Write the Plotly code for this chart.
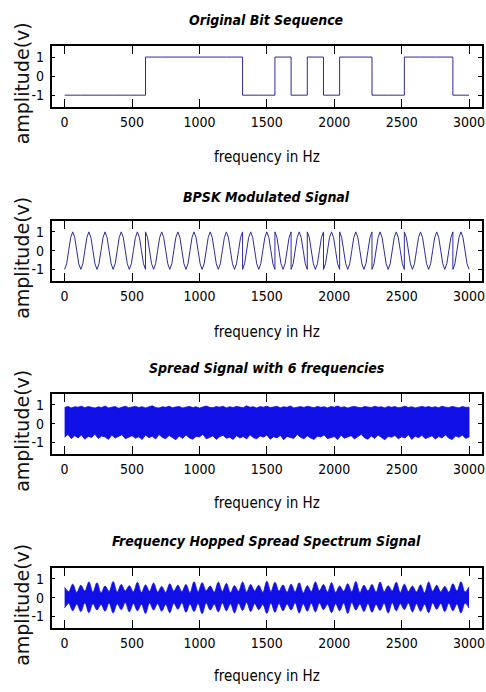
import plotly.graph_objects as go

# ---------------- data ----------------
bits = [0, 0, 0, 0, 0, 1, 1, 1, 1, 1, 1, 0, 0, 1, 0, 1, 0, 1, 1, 0, 0, 1, 1, 1, 0]
bit_width = 120                      # samples per bit (x units)
carrier_cycle = [-1, -0.7, 0, 0.7, 1, 0.7, 0, -0.7, -1]   # one carrier cycle, bit "0" form
x_ticks = [0, 500, 1000, 1500, 2000, 2500, 3000]
y_ticks = [-1, 0, 1]
y_ticktext = ["-1", "0", "1"]

spread_step = 25
spread_upper = [
    0.86, 0.92, 0.84, 0.90, 0.88, 0.93, 0.85, 0.91, 0.87, 0.83,
    0.90, 0.86, 0.94, 0.84, 0.88, 0.91, 0.82, 0.89, 0.93, 0.85,
    0.87, 0.92, 0.86, 0.90, 0.84, 0.88, 0.95, 0.86, 0.83, 0.90,
    0.87, 0.93, 0.85, 0.89, 0.91, 0.84, 0.88, 0.92, 0.86, 0.90,
    0.83, 0.89, 0.94, 0.87, 0.85, 0.91, 0.88, 0.93, 0.84, 0.90,
    0.86, 0.92, 0.89, 0.85, 0.95, 0.87, 0.90, 0.84, 0.91, 0.88,
    0.93, 0.86, 0.89, 0.92, 0.85, 0.90, 0.87, 0.94, 0.84, 0.88,
    0.91, 0.86, 0.93, 0.89, 0.85, 0.92, 0.87, 0.90, 0.84, 0.91,
    0.88, 0.94, 0.86, 0.90, 0.83, 0.89, 0.92, 0.87, 0.85, 0.91,
    0.89, 0.86, 0.93, 0.88, 0.90, 0.84, 0.92, 0.87, 0.91, 0.85,
    0.88, 0.93, 0.86, 0.90, 0.84, 0.89, 0.92, 0.87, 0.91, 0.86,
    0.90, 0.85, 0.93, 0.88, 0.86, 0.92, 0.89, 0.84, 0.91, 0.87,
    0.88]
spread_lower = [
    -0.72, -0.58, -0.80, -0.65, -0.76, -0.60, -0.83, -0.68, -0.74, -0.57,
    -0.79, -0.66, -0.71, -0.84, -0.62, -0.77, -0.69, -0.59, -0.81, -0.73,
    -0.64, -0.78, -0.70, -0.85, -0.61, -0.75, -0.67, -0.82, -0.58, -0.74,
    -0.80, -0.63, -0.72, -0.86, -0.66, -0.79, -0.60, -0.76, -0.83, -0.68,
    -0.71, -0.57, -0.81, -0.74, -0.65, -0.84, -0.70, -0.62, -0.78, -0.73,
    -0.85, -0.64, -0.77, -0.69, -0.82, -0.59, -0.75, -0.80, -0.66, -0.72,
    -0.61, -0.83, -0.70, -0.76, -0.63, -0.86, -0.68, -0.74, -0.79, -0.58,
    -0.73, -0.81, -0.65, -0.77, -0.84, -0.67, -0.71, -0.60, -0.80, -0.75,
    -0.69, -0.85, -0.62, -0.78, -0.72, -0.64, -0.82, -0.70, -0.57, -0.76,
    -0.83, -0.66, -0.79, -0.61, -0.74, -0.86, -0.68, -0.73, -0.63, -0.81,
    -0.70, -0.77, -0.59, -0.84, -0.67, -0.75, -0.62, -0.80, -0.72, -0.65,
    -0.82, -0.69, -0.76, -0.60, -0.78, -0.85, -0.66, -0.73, -0.61, -0.79,
    -0.71]

fh_step = 30   # half of the envelope bump period
fh_upper_peaks = [0.55, 0.72, 0.66, 0.84, 0.80, 0.62, 0.86, 0.70, 0.64, 0.82,
                  0.68, 0.78, 0.60, 0.74, 0.66, 0.70, 0.85, 0.80, 0.62, 0.83,
                  0.76, 0.64, 0.84, 0.70, 0.66, 0.88, 0.82, 0.68, 0.72, 0.80,
                  0.64, 0.84, 0.70, 0.80, 0.62, 0.74, 0.86, 0.66, 0.70, 0.84,
                  0.64, 0.82, 0.72, 0.62, 0.68, 0.84, 0.66, 0.60, 0.74, 0.85,
                  0.58]
fh_lower_peaks = [-0.55, -0.70, -0.74, -0.80, -0.66, -0.72, -0.82, -0.64, -0.76, -0.70,
                  -0.84, -0.66, -0.72, -0.80, -0.62, -0.78, -0.74, -0.86, -0.66, -0.76,
                  -0.70, -0.82, -0.68, -0.74, -0.64, -0.84, -0.78, -0.70, -0.66, -0.82,
                  -0.72, -0.76, -0.64, -0.80, -0.70, -0.84, -0.66, -0.74, -0.78, -0.68,
                  -0.82, -0.70, -0.64, -0.76, -0.72, -0.80, -0.62, -0.74, -0.70, -0.82,
                  -0.56]
fh_upper_waists = [0.32, 0.28, 0.35, 0.30, 0.26, 0.33, 0.29, 0.36, 0.31, 0.27,
                   0.34, 0.30, 0.28, 0.35, 0.32, 0.26, 0.31, 0.37, 0.29, 0.33,
                   0.27, 0.34, 0.30, 0.36, 0.28, 0.32, 0.35, 0.29, 0.31, 0.26,
                   0.33, 0.37, 0.30, 0.28, 0.34, 0.31, 0.27, 0.35, 0.29, 0.32,
                   0.36, 0.28, 0.33, 0.30, 0.26, 0.34, 0.31, 0.29, 0.35, 0.30]
fh_lower_waists = [-0.30, -0.34, -0.27, -0.32, -0.36, -0.29, -0.33, -0.26, -0.31, -0.35,
                   -0.28, -0.32, -0.37, -0.30, -0.27, -0.34, -0.31, -0.29, -0.35, -0.28,
                   -0.33, -0.30, -0.26, -0.32, -0.36, -0.29, -0.31, -0.34, -0.27, -0.33,
                   -0.30, -0.28, -0.35, -0.32, -0.29, -0.26, -0.34, -0.31, -0.36, -0.30,
                   -0.27, -0.33, -0.29, -0.32, -0.35, -0.28, -0.31, -0.30, -0.34, -0.29]

titles = ["Original Bit Sequence", "BPSK Modulated Signal",
          "Spread Signal with 6 frequencies", "Frequency Hopped Spread Spectrum Signal"]
x_label = "frequency in Hz"
y_label = "amplitude(v)"

# ---------------- build traces from the data ----------------
W, H = 486, 692
thin_col = "#2b2b9c"
band_col = "#1010e6"

# bit sequence (step)
bit_x = [i * bit_width for i in range(len(bits))] + [len(bits) * bit_width]
bit_y = [2 * b - 1 for b in bits] + [2 * bits[-1] - 1]

# BPSK: carrier cycle, inverted for bit 1
n_c = len(carrier_cycle) - 1
bpsk_x, bpsk_y = [], []
for i, b in enumerate(bits):
    s = 1 if b == 0 else -1
    for j, v in enumerate(carrier_cycle):
        bpsk_x.append(i * bit_width + j * bit_width / n_c)
        bpsk_y.append(s * v)

# spread signal band
sp_x = [i * spread_step for i in range(len(spread_upper))]

# FH envelope: interleave peaks and waists
fh_up, fh_lo, fh_x = [], [], []
for k in range(len(fh_upper_peaks)):
    fh_up.append(fh_upper_peaks[k]); fh_lo.append(fh_lower_peaks[k]); fh_x.append(2 * k * fh_step)
    if k < len(fh_upper_waists):
        fh_up.append(fh_upper_waists[k]); fh_lo.append(fh_lower_waists[k]); fh_x.append((2 * k + 1) * fh_step)

fig = go.Figure()
fig.add_trace(go.Scatter(x=bit_x, y=bit_y, mode="lines", line=dict(color=thin_col, width=1, shape="hv"),
                         xaxis="x", yaxis="y", showlegend=False, hoverinfo="skip"))
fig.add_trace(go.Scatter(x=bpsk_x, y=bpsk_y, mode="lines", line=dict(color=thin_col, width=1),
                         xaxis="x2", yaxis="y2", showlegend=False, hoverinfo="skip"))
fig.add_trace(go.Scatter(x=sp_x + sp_x[::-1], y=spread_upper + spread_lower[::-1], mode="lines",
                         fill="toself", fillcolor=band_col, line=dict(color=band_col, width=0.8),
                         xaxis="x3", yaxis="y3", showlegend=False, hoverinfo="skip"))
fig.add_trace(go.Scatter(x=fh_x, y=fh_lo, mode="lines", line=dict(color=band_col, width=0.8, shape="spline"),
                         xaxis="x4", yaxis="y4", showlegend=False, hoverinfo="skip"))
fig.add_trace(go.Scatter(x=fh_x, y=fh_up, mode="lines", fill="tonexty", fillcolor=band_col,
                         line=dict(color=band_col, width=0.8, shape="spline"),
                         xaxis="x4", yaxis="y4", showlegend=False, hoverinfo="skip"))

# ---------------- layout ----------------
narrow = "DejaVu Sans Condensed, Liberation Sans Narrow, Liberation Sans, sans-serif"
x_dom = [52 / W, 485 / W]
rows_px = [(46, 107), (221, 281), (394, 454), (568, 628)]
title_px = [20, 197, 368, 541]
xlabel_px = [157, 332, 503, 676]

layout = dict(width=W, height=H, margin=dict(l=0, r=0, t=0, b=0),
              paper_bgcolor="white", plot_bgcolor="white", showlegend=False)
annotations = []
xc = (x_dom[0] + x_dom[1]) / 2
for i, (top, bot) in enumerate(rows_px):
    sfx = "" if i == 0 else str(i + 1)
    layout["xaxis" + sfx] = dict(domain=x_dom, range=[-96, 3096], tickvals=x_ticks,
                                 ticks="inside", ticklen=8, tickwidth=1, tickcolor="black",
                                 showline=True, linecolor="black", linewidth=1.5, mirror="ticks",
                                 showgrid=False, zeroline=False, anchor="y" + sfx,
                                 tickfont=dict(family=narrow, size=14, color="black"),
                                 ticklabelstandoff=1, ticklabeloverflow="allow")
    layout["yaxis" + sfx] = dict(domain=[1 - bot / H, 1 - top / H], range=[-1.62, 1.58],
                                 tickvals=y_ticks, ticktext=y_ticktext,
                                 ticks="inside", ticklen=4, tickwidth=1, tickcolor="black",
                                 showline=True, linecolor="black", linewidth=1.5, mirror="ticks",
                                 showgrid=False, zeroline=False, anchor="x" + sfx,
                                 tickfont=dict(family=narrow, size=14, color="black"),
                                 ticklabelstandoff=3)
    annotations.append(dict(text=titles[i], x=xc, y=1 - title_px[i] / H, xref="paper", yref="paper",
                            xanchor="center", yanchor="middle", showarrow=False,
                            font=dict(family=narrow, size=14, color="black", weight="bold", style="italic")))
    annotations.append(dict(text=x_label, x=xc, y=1 - xlabel_px[i] / H, xref="paper", yref="paper",
                            xanchor="center", yanchor="middle", showarrow=False,
                            font=dict(family=narrow, size=15, color="black")))
    annotations.append(dict(text=y_label, x=22 / W, y=1 - ((top + bot) / 2 + 7) / H, xref="paper", yref="paper",
                            xanchor="center", yanchor="middle", showarrow=False, textangle=-90,
                            font=dict(family="DejaVu Sans, sans-serif", size=19, color="#111111")))
layout["annotations"] = annotations
fig.update_layout(**layout)

fig.write_html("out.html", config={"displayModeBar": False},
               post_script="document.body.style.margin='0';document.body.style.overflow='hidden';")
